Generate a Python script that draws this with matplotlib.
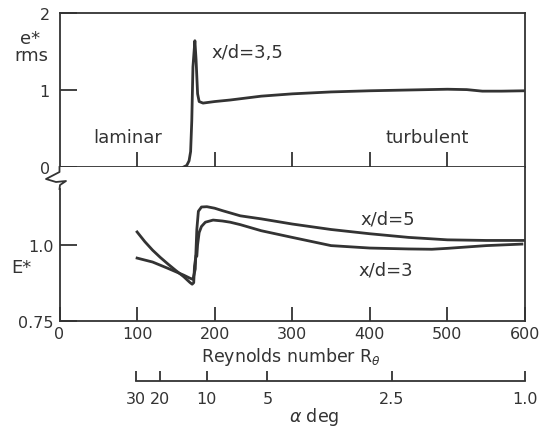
import matplotlib
matplotlib.use("Agg")
import matplotlib.pyplot as plt
from matplotlib.lines import Line2D

# ---------------- data ----------------
re_top = [160, 164, 167, 169, 170.5, 172, 174.5, 176, 178, 180, 185, 200, 220, 260,
          300, 350, 400, 450, 500, 525, 545, 570, 600]
erms_top = [0.0, 0.02, 0.08, 0.2, 0.6, 1.3, 1.64, 1.4, 0.95, 0.85, 0.83, 0.85, 0.87,
            0.92, 0.95, 0.975, 0.99, 1.0, 1.01, 1.005, 0.985, 0.985, 0.99]

re_xd5 = [100, 120, 140, 160, 168, 172, 175, 177, 179, 183, 190, 200, 210, 233, 260,
          300, 350, 400, 450, 500, 550, 600]
E_xd5 = [0.956, 0.943, 0.922, 0.900, 0.890, 0.886, 0.92, 1.05, 1.11, 1.124, 1.125,
         1.12, 1.112, 1.095, 1.085, 1.068, 1.05, 1.036, 1.024, 1.016, 1.014, 1.014]

re_xd3 = [100, 110, 120, 130, 140, 150, 160, 168, 171, 173, 174, 176, 177, 178, 180,
          183, 188, 198, 210, 220, 233, 260, 300, 350, 400, 450, 480, 500, 550, 596]
E_xd3 = [1.042, 1.01, 0.982, 0.958, 0.936, 0.915, 0.895, 0.876, 0.870, 0.875, 0.93,
         0.965, 0.962, 1.0, 1.04, 1.06, 1.074, 1.081, 1.078, 1.074, 1.066, 1.046,
         1.024, 0.997, 0.989, 0.986, 0.985, 0.988, 0.997, 1.002]

re_ticks = [0, 100, 200, 300, 400, 500, 600]
alpha_labels = ["30", "20", "10", "5", "2.5", "1.0"]
alpha_pos_re = [99, 130, 190, 268, 428, 600]

# ---------------- layout helpers ----------------
W, H = 542, 427
def fx(px):
    return px / W
def fy(py):
    return 1 - py / H

C = "#333333"
plt.rcParams["font.family"] = ["DejaVu Sans"]
plt.rcParams["text.color"] = C
plt.rcParams["axes.edgecolor"] = C
plt.rcParams["xtick.color"] = C
plt.rcParams["ytick.color"] = C
plt.rcParams["mathtext.fontset"] = "dejavusans"

fig = plt.figure(figsize=(W / 100, H / 100), dpi=100)
fig.patch.set_facecolor("white")

xl, xr = 59.5, 525
lw_sp = 1.3
lw_c = 2.0

# ---- top panel ----
ax1 = fig.add_axes([fx(xl), fy(168), fx(xr) - fx(xl), (168 - 14) / H])
ax1.set_xlim(0, 600)
ax1.set_ylim(0, 2)
ax1.plot(re_top, erms_top, color=C, lw=lw_c, solid_joinstyle="round")
for s in ax1.spines.values():
    s.set_linewidth(lw_sp)
ax1.set_xticks(re_ticks[1:-1])
ax1.set_xticklabels([])
ax1.tick_params(axis="x", direction="in", length=11, width=lw_sp)
ax1.set_yticks([0, 1, 2])
ax1.set_yticklabels(["0", "1", "2"], fontsize=11.5)
ax1.tick_params(axis="y", direction="in", length=12, width=lw_sp, pad=7)
ax1.text(88, 0.39, "laminar", fontsize=13, ha="center", va="center")
ax1.text(474, 0.39, "turbulent", fontsize=13, ha="center", va="center")
ax1.text(242, 1.50, "x/d=3,5", fontsize=13, ha="center", va="center")

# ---- bottom panel ----
ax2 = fig.add_axes([fx(xl), fy(321.7), fx(xr) - fx(xl), (321.7 - 168) / H])
ax2.set_xlim(0, 600)
ytop = 0.75 + (321.7 - 168) / 304
ax2.set_ylim(0.75, ytop)
ax2.plot(re_xd5, E_xd5, color=C, lw=lw_c, solid_joinstyle="round")
ax2.plot(re_xd3, E_xd3, color=C, lw=lw_c, solid_joinstyle="round")
ax2.spines["top"].set_visible(False)
for s in ax2.spines.values():
    s.set_linewidth(lw_sp)
ax2.spines["left"].set_bounds(0.75, 0.75 + (321.7 - 190) / 304)
ax2.set_xticks(re_ticks)
ax2.set_xticklabels([str(v) for v in re_ticks], fontsize=11.5)
ax2.tick_params(axis="x", direction="in", length=10, width=lw_sp, pad=4)
ax2.set_yticks([0.75, 1.0])
ax2.set_yticklabels(["0.75", "1.0"], fontsize=11.5)
ax2.tick_params(axis="y", direction="in", length=12, width=lw_sp, pad=4)
ax2.text(423, 1.085, "x/d=5", fontsize=13, ha="center", va="center")
ax2.text(421, 0.92, "x/d=3", fontsize=13, ha="center", va="center")

# ---- alpha axis ----
ax3 = fig.add_axes([fx(xl), fy(382.3), fx(xr) - fx(xl), 0.0001])
ax3.set_xlim(0, 600)
ax3.set_ylim(0, 1)
ax3.patch.set_visible(False)
for k in ["top", "left", "right"]:
    ax3.spines[k].set_visible(False)
ax3.spines["bottom"].set_linewidth(lw_sp)
ax3.spines["bottom"].set_bounds(alpha_pos_re[0], alpha_pos_re[-1])
ax3.set_yticks([])
ax3.set_xticks(alpha_pos_re)
ax3.set_xticklabels(alpha_labels, fontsize=11.5)
ax3.tick_params(axis="x", direction="in", length=7.5, width=lw_sp, pad=7)

# ---- texts ----
fig.text(fx(30), fy(39), "e*", fontsize=13, ha="center", va="center")
fig.text(fx(31), fy(56), "rms", fontsize=13, ha="center", va="center")
fig.text(fx(21), fy(268), "E*", fontsize=13, ha="center", va="center")
fig.text(fx(291), fy(346), r"Reynolds number R$_\theta$", fontsize=12.5,
         ha="center", va="top")
fig.text(fx(314), fy(417), r"$\alpha$ deg", fontsize=12.5, ha="center", va="center")

# ---- axis break squiggle ----
pts = [(59.5, 168), (59.5, 173), (46, 180), (56, 183), (66, 182), (60, 186), (59.5, 190)]
fig.add_artist(Line2D([fx(p[0]) for p in pts], [fy(p[1]) for p in pts],
                      transform=fig.transFigure, color=C, lw=lw_sp))

fig.savefig("out.png", dpi=100, facecolor="white")
